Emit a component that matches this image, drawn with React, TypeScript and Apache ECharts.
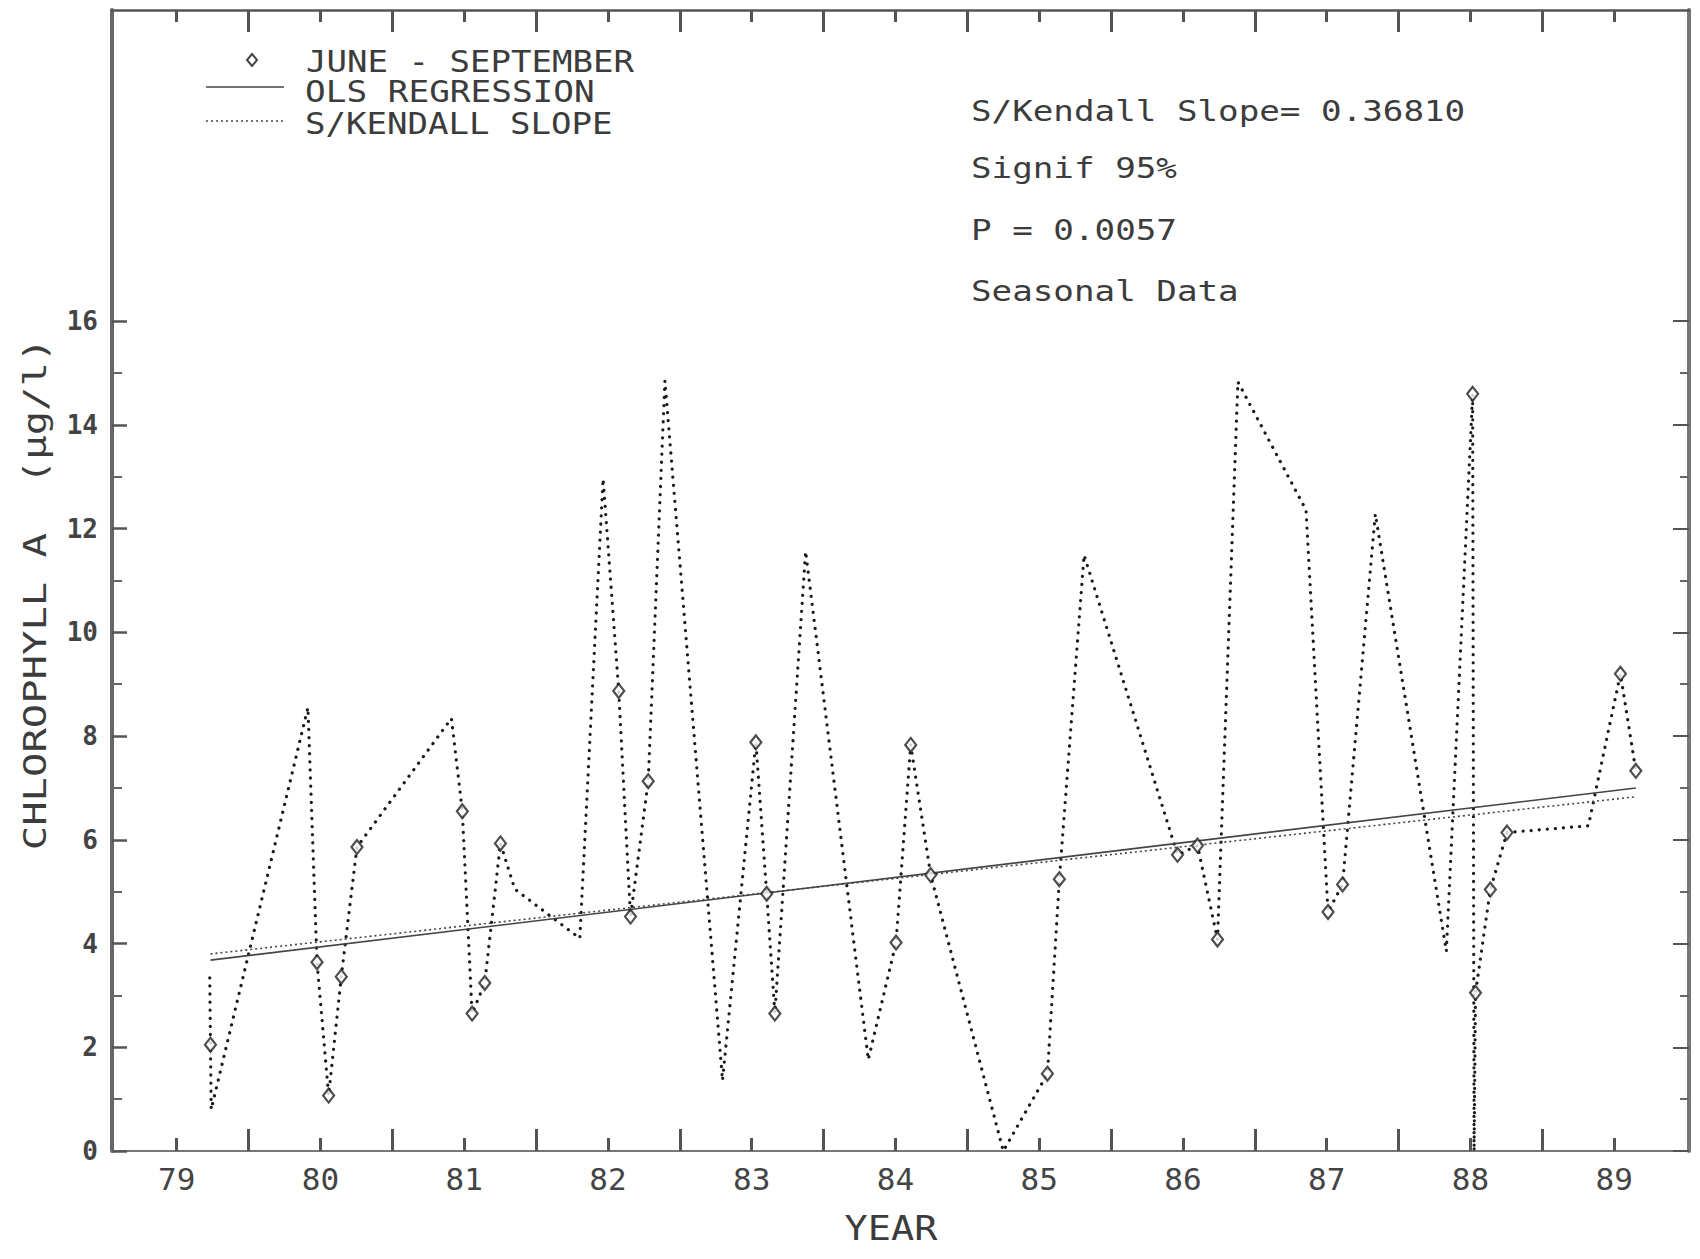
import React, { useEffect, useRef } from "react";
import * as echarts from "echarts";

// ---- data ----
const lineTimes = [
  1979.73, 1979.735, 1979.74, 1980.413, 1980.476, 1980.557, 1980.645, 1980.754,
  1981.411, 1981.487, 1981.555, 1981.643, 1981.752, 1981.852, 1982.304, 1982.466,
  1982.575, 1982.657, 1982.78, 1982.896, 1983.297, 1983.529, 1983.604, 1983.661,
  1983.875, 1984.311, 1984.504, 1984.606, 1984.745, 1985.25, 1985.557, 1985.64,
  1985.812, 1986.462, 1986.601, 1986.74, 1986.882, 1987.356, 1987.509, 1987.61,
  1987.838, 1988.332, 1988.515, 1988.525, 1988.535, 1988.638, 1988.754, 1989.32,
  1989.543, 1989.65,
];
const lineValues = [
  3.34, 2.05, 0.8, 8.55, 3.64, 1.07, 3.36, 5.86,
  8.34, 6.55, 2.65, 3.24, 5.93, 5.05, 4.1, 12.96,
  8.87, 4.52, 7.13, 14.85, 1.36, 7.88, 4.96, 2.65,
  11.56, 1.76, 4.02, 7.83, 5.32, 0.0, 1.49, 5.24,
  11.49, 5.71, 5.89, 4.08, 14.83, 12.36, 4.61, 5.14,
  12.28, 3.85, 14.6, 0.0, 3.05, 5.04, 6.14, 6.27,
  9.2, 7.33,
];
const juneSeptTimes = [
  1979.735, 1980.476, 1980.557, 1980.645, 1980.754, 1981.487, 1981.555, 1981.643,
  1981.752, 1982.575, 1982.657, 1982.78, 1983.529, 1983.604, 1983.661, 1984.504,
  1984.606, 1984.745, 1985.557, 1985.64, 1986.462, 1986.601, 1986.74, 1987.509,
  1987.61, 1988.515, 1988.535, 1988.638, 1988.754, 1989.543, 1989.65,
];
const juneSeptValues = [
  2.05, 3.64, 1.07, 3.36, 5.86, 6.55, 2.65, 3.24,
  5.93, 8.87, 4.52, 7.13, 7.88, 4.96, 2.65, 4.02,
  7.83, 5.32, 1.49, 5.24, 5.71, 5.89, 4.08, 4.61,
  5.14, 14.6, 3.05, 5.04, 6.14, 9.2, 7.33,
];
const olsTimes = [1979.735, 1989.65];
const olsValues = [3.68, 7.0];
const kendallTimes = [1979.735, 1989.65];
const kendallValues = [3.8, 6.83];

const yearLabels = ["79", "80", "81", "82", "83", "84", "85", "86", "87", "88", "89"];
const yearBoundaries = [1980, 1981, 1982, 1983, 1984, 1985, 1986, 1987, 1988, 1989];
const yearMids = [1979.5, 1980.5, 1981.5, 1982.5, 1983.5, 1984.5, 1985.5, 1986.5, 1987.5, 1988.5, 1989.5];
const yTickLabels = [0, 2, 4, 6, 8, 10, 12, 14, 16];
const yMinorTicks = [1, 3, 5, 7, 9, 11, 13, 15];
const yRightTicks = [0, 2, 4, 6, 8, 10, 12, 14, 16];
const yRightMinor = [1, 3, 5, 7, 9, 11, 13, 15];

const legendLabels = ["JUNE - SEPTEMBER", "OLS REGRESSION", "S/KENDALL SLOPE"];
const statsLines = ["S/Kendall Slope= 0.36810", "Signif 95%", "P = 0.0057", "Seasonal Data"];
const yAxisTitle = "CHLOROPHYLL A  (\u00b5g/l)";
const xAxisTitle = "YEAR";

const MONO = "'DejaVu Sans Mono', 'Liberation Mono', monospace";
const TEXT = "#3c3c3c";

function monoText(
  x: number,
  y: number,
  text: string,
  size: number,
  perChar: number,
  opts: any = {}
) {
  const scaleX = perChar / (0.602 * size);
  return {
    type: "text",
    x,
    y,
    scaleX,
    rotation: opts.rotation || 0,
    silent: true,
    style: {
      text,
      fontFamily: MONO,
      fontSize: size,
      fontWeight: opts.weight || "normal",
      fill: opts.fill || TEXT,
      align: opts.align || "left",
      verticalAlign: "middle",
      textAlign: opts.align || "left",
      textVerticalAlign: "middle",
    },
  };
}

export default function App() {
  const ref = useRef<HTMLDivElement>(null);

  useEffect(() => {
    document.body.style.margin = "0";
    const chart = echarts.init(ref.current as HTMLDivElement, undefined, { renderer: "svg" });

    const xMin = 1979.05;
    const xMax = 1990.02;

    const baseX = {
      type: "value",
      min: xMin,
      max: xMax,
      splitLine: { show: false },
      axisLabel: { show: false },
    };
    const baseY = {
      type: "value",
      min: 0,
      max: 22,
      splitLine: { show: false },
      axisLabel: { show: false },
    };

    const option: any = {
      animation: false,
      backgroundColor: "#ffffff",
      grid: { left: 112, right: 11, top: 10, bottom: 108, containLabel: false, outerBoundsMode: "none" },
      xAxis: [
        {
          ...baseX,
          position: "bottom",
          axisLine: { show: true, onZero: false, lineStyle: { color: "#777", width: 2 } },
          axisTick: { show: true, inside: true, length: 22, customValues: yearBoundaries, lineStyle: { color: "#555", width: 3 } },
        },
        {
          ...baseX,
          position: "bottom",
          axisLine: { show: false, onZero: false },
          axisTick: { show: true, inside: true, length: 13, customValues: yearMids, lineStyle: { color: "#555", width: 3 } },
          axisLabel: {
            show: true,
            customValues: yearMids,
            formatter: (v: number) => yearLabels[Math.round(v - 1979.5)] || "",
            margin: 12,
            fontFamily: MONO,
            fontSize: 31,
            color: "#444",
          },
        },
        {
          ...baseX,
          position: "top",
          axisLine: { show: true, onZero: false, lineStyle: { color: "#555", width: 2.5 } },
          axisTick: { show: true, inside: true, length: 22, customValues: yearBoundaries, lineStyle: { color: "#555", width: 3 } },
        },
        {
          ...baseX,
          position: "top",
          axisLine: { show: false, onZero: false },
          axisTick: { show: true, inside: true, length: 12, customValues: yearMids, lineStyle: { color: "#555", width: 3 } },
        },
      ],
      yAxis: [
        {
          ...baseY,
          position: "left",
          axisLine: { show: true, onZero: false, lineStyle: { color: "#666", width: 4 } },
          axisTick: { show: true, inside: true, length: 15, customValues: yTickLabels, lineStyle: { color: "#555", width: 2.5 } },
          axisLabel: {
            show: true,
            customValues: yTickLabels,
            margin: 14,
            fontFamily: MONO,
            fontSize: 26,
            fontWeight: "bold",
            color: "#444",
          },
        },
        {
          ...baseY,
          position: "left",
          axisLine: { show: false, onZero: false },
          axisTick: { show: true, inside: true, length: 10, customValues: yMinorTicks, lineStyle: { color: "#666", width: 2 } },
        },
        {
          ...baseY,
          position: "right",
          axisLine: { show: true, onZero: false, lineStyle: { color: "#777", width: 4 } },
          axisTick: { show: true, inside: true, length: 16, customValues: yRightTicks, lineStyle: { color: "#555", width: 2 } },
        },
        {
          ...baseY,
          position: "right",
          axisLine: { show: false, onZero: false },
          axisTick: { show: true, inside: true, length: 9, customValues: yRightMinor, lineStyle: { color: "#666", width: 2 } },
        },
      ],
      series: [
        {
          name: "all samples",
          type: "line",
          xAxisIndex: 0,
          yAxisIndex: 0,
          data: lineTimes.map((t, i) => [t, lineValues[i]]),
          symbol: "none",
          silent: true,
          lineStyle: { color: "#1a1a1a", width: 3.2, type: [0.1, 8], cap: "round" },
          z: 2,
        },
        {
          name: legendLabels[1],
          type: "line",
          xAxisIndex: 0,
          yAxisIndex: 0,
          data: olsTimes.map((t, i) => [t, olsValues[i]]),
          symbol: "none",
          silent: true,
          lineStyle: { color: "#444", width: 1.6, type: "solid" },
          z: 3,
        },
        {
          name: legendLabels[2],
          type: "line",
          xAxisIndex: 0,
          yAxisIndex: 0,
          data: kendallTimes.map((t, i) => [t, kendallValues[i]]),
          symbol: "none",
          silent: true,
          lineStyle: { color: "#444", width: 1.6, type: [2, 3] },
          z: 3,
        },
        {
          name: legendLabels[0],
          type: "scatter",
          xAxisIndex: 0,
          yAxisIndex: 0,
          data: juneSeptTimes.map((t, i) => [t, juneSeptValues[i]]),
          symbol: "diamond",
          symbolSize: [11, 14],
          silent: true,
          itemStyle: { color: "#ffffff", borderColor: "#222", borderWidth: 2.2 },
          z: 5,
        },
      ],
      graphic: [
        // legend
        {
          type: "polygon",
          silent: true,
          shape: { points: [[252, 54], [257, 60], [252, 66], [247, 60]] },
          style: { fill: "#fff", stroke: "#444", lineWidth: 2 },
        },
        {
          type: "line",
          silent: true,
          shape: { x1: 206, y1: 87, x2: 284, y2: 87 },
          style: { stroke: "#444", lineWidth: 1.6 },
        },
        {
          type: "line",
          silent: true,
          shape: { x1: 206, y1: 121, x2: 284, y2: 121 },
          style: { stroke: "#444", lineWidth: 1.6, lineDash: [2, 3] },
        },
        monoText(306, 62, legendLabels[0], 30, 20.5),
        monoText(305, 92, legendLabels[1], 30, 20.7),
        monoText(305, 124, legendLabels[2], 30, 20.5),
        // statistics block
        monoText(971, 111, statsLines[0], 28, 20.6),
        monoText(971, 168, statsLines[1], 28, 20.6),
        monoText(971, 230, statsLines[2], 28, 20.6),
        monoText(971, 291, statsLines[3], 28, 20.6),
        // axis titles
        monoText(35, 594, yAxisTitle, 32, 24.4, { align: "center", rotation: Math.PI / 2 }),
        monoText(891, 1228, xAxisTitle, 34, 23.2, { align: "center" }),
      ],
    };

    chart.setOption(option);
    return () => chart.dispose();
  }, []);

  return <div ref={ref} style={{ width: 1700, height: 1259, background: "#fff" }} />;
}
